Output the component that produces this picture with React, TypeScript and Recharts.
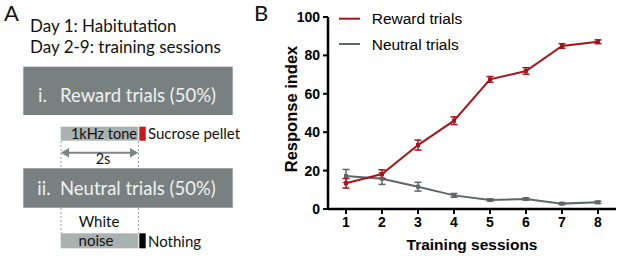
import { LineChart, Line, XAxis, YAxis, ErrorBar, Legend, Label } from "recharts";

const sessions = [1, 2, 3, 4, 5, 6, 7, 8];
const rewardMean = [13.4, 18.2, 33.3, 46, 67.5, 71.9, 84.9, 87.1];
const rewardSem = [2.5, 2.2, 2.6, 2, 1.5, 1.7, 1.2, 1];
const neutralMean = [17.2, 15.8, 11.6, 7.1, 4.7, 5.2, 2.8, 3.5];
const neutralSem = [3.4, 3, 2.3, 1, 0.6, 0.6, 0.5, 0.6];
const yTicks = [0, 20, 40, 60, 80, 100];
const seriesNames = ["Reward trials", "Neutral trials"];

const RED = "#a3161b";
const GRAY = "#5d6969";
const BOX = "#78817f";
const BAR = "#a9b2b0";
const AXIS_FONT = "'Liberation Sans', Arial, sans-serif";
const SCHEME_FONT = "Lato, 'Open Sans', sans-serif";

const data = sessions.map((s, i) => ({
  session: s,
  reward: rewardMean[i],
  rewardErr: rewardSem[i],
  neutral: neutralMean[i],
  neutralErr: neutralSem[i],
}));

function squareDot(color: string) {
  return (p: any) => (
    <rect key={`d-${p.index}`} x={p.cx - 2} y={p.cy - 2} width={4} height={4} fill={color} />
  );
}

function LegendBox() {
  const colors = [RED, GRAY];
  return (
    <svg width={160} height={50}>
      {seriesNames.map((name, i) => {
        const y = 10.7 + i * 25.3;
        return (
          <g key={name}>
            <line x1={4} x2={25} y1={y} y2={y} stroke={colors[i]} strokeWidth={2} />
            <text x={36.7} y={y + 5.5} fontSize={15.5} fontFamily={AXIS_FONT} fill="#000">
              {name}
            </text>
          </g>
        );
      })}
    </svg>
  );
}

function PanelA() {
  const txt = { fontFamily: SCHEME_FONT, fill: "#111" };
  const dash = { stroke: "#9a9a9a", strokeWidth: 1, strokeDasharray: "2 2" };
  return (
    <svg width={617} height={258} style={{ position: "absolute", left: 0, top: 0 }}>
      <text x={4} y={21} fontSize={22} {...txt}>A</text>
      <text x={254} y={21} fontSize={22} {...txt}>B</text>
      <text x={30} y={32} fontSize={17} {...txt}>Day 1: Habitutation</text>
      <text x={30} y={53} fontSize={17} {...txt}>Day 2-9: training sessions</text>

      <rect x={23.3} y={66.7} width={209.4} height={48.3} fill={BOX} />
      <text y={102} fontSize={18.5} fontFamily={SCHEME_FONT} fill="#f0f2f2">
        <tspan x={38}>i.</tspan>
        <tspan x={60}>Reward trials (50%)</tspan>
      </text>

      <rect x={60.7} y={126.7} width={77.6} height={14} fill={BAR} />
      <rect x={139.3} y={126.7} width={6.4} height={14} fill="#c8161d" />
      <text x={137} y={138.5} fontSize={14.5} textAnchor="end" {...txt}>1kHz tone</text>
      <text x={148} y={138.5} fontSize={15} {...txt}>Sucrose pellet</text>

      <line x1={66} x2={133} y1={152.7} y2={152.7} stroke="#7d8785" strokeWidth={2} />
      <polygon points="60.7,152.7 69,148 69,157.4" fill="#7d8785" />
      <polygon points="138.3,152.7 130,148 130,157.4" fill="#7d8785" />
      <text x={103} y={163.5} fontSize={14.5} textAnchor="middle" {...txt}>2s</text>

      <line x1={61} x2={61} y1={141} y2={168} {...dash} />
      <line x1={138.5} x2={138.5} y1={141} y2={168} {...dash} />

      <rect x={23.3} y={168.3} width={209.4} height={39.4} fill={BOX} />
      <text y={195} fontSize={18.5} fontFamily={SCHEME_FONT} fill="#f0f2f2">
        <tspan x={37.3}>ii.</tspan>
        <tspan x={60}>Neutral trials (50%)</tspan>
      </text>

      <line x1={61} x2={61} y1={208} y2={233} {...dash} />
      <line x1={138.5} x2={138.5} y1={208} y2={233} {...dash} />
      <text x={99} y={226.5} fontSize={15} textAnchor="middle" {...txt}>White</text>
      <rect x={60.7} y={233.3} width={77.6} height={15} fill={BAR} />
      <rect x={139.3} y={233.3} width={6.4} height={15} fill="#000" />
      <text x={96} y={246} fontSize={15} textAnchor="middle" {...txt}>noise</text>
      <text x={148} y={246.7} fontSize={15} {...txt}>Nothing</text>
    </svg>
  );
}

export default function App() {
  const tick = { fontSize: 14, fontWeight: "bold", fill: "#000", fontFamily: AXIS_FONT };
  return (
    <div style={{ position: "absolute", left: 0, top: 0, width: 617, height: 258, background: "#fff" }}>
      <PanelA />
      <div style={{ position: "absolute", left: 250, top: 0 }}>
        <LineChart width={367} height={258} data={data} margin={{ top: 17, right: 1, bottom: 0, left: 0 }}>
          <XAxis
            type="number"
            dataKey="session"
            domain={[0.5, 8.5]}
            ticks={sessions}
            height={49}
            axisLine={{ stroke: "#000", strokeWidth: 2.5 }}
            tickLine={{ stroke: "#000", strokeWidth: 2 }}
            tickSize={5}
            tickMargin={3}
            tick={tick}
          >
            <Label
              value="Training sessions"
              position="insideBottom"
              offset={8}
              style={{ fontSize: 15.5, fontWeight: "bold", fill: "#000", fontFamily: AXIS_FONT }}
            />
          </XAxis>
          <YAxis
            type="number"
            domain={[0, 100]}
            ticks={yTicks}
            width={78}
            axisLine={{ stroke: "#000", strokeWidth: 2.5 }}
            tickLine={{ stroke: "#000", strokeWidth: 2 }}
            tickSize={5}
            tickMargin={3}
            tick={tick}
          >
            <Label
              content={(props: any) => {
                const vb = props.viewBox || { y: 17, height: 192 };
                const cx = 47;
                const cy = vb.y + vb.height / 2 - 4;
                return (
                  <text
                    x={cx}
                    y={cy}
                    transform={`rotate(-90 ${cx} ${cy})`}
                    textAnchor="middle"
                    fontSize={16.5}
                    fontWeight="bold"
                    fontFamily={AXIS_FONT}
                    fill="#000"
                  >
                    Response index
                  </text>
                );
              }}
            />
          </YAxis>
          <Legend
            layout="vertical"
            align="center"
            verticalAlign="middle"
            content={() => <LegendBox />}
            wrapperStyle={{ top: 8, left: 85, width: 160, height: 50 }}
          />
          <Line
            dataKey="neutral"
            stroke={GRAY}
            strokeWidth={2}
            dot={squareDot(GRAY)}
            isAnimationActive={false}
          >
            <ErrorBar dataKey="neutralErr" direction="y" width={3.5} stroke={GRAY} strokeWidth={1.5} />
          </Line>
          <Line
            dataKey="reward"
            stroke={RED}
            strokeWidth={2}
            dot={squareDot(RED)}
            isAnimationActive={false}
          >
            <ErrorBar dataKey="rewardErr" direction="y" width={3.5} stroke={RED} strokeWidth={1.5} />
          </Line>
        </LineChart>
      </div>
    </div>
  );
}
